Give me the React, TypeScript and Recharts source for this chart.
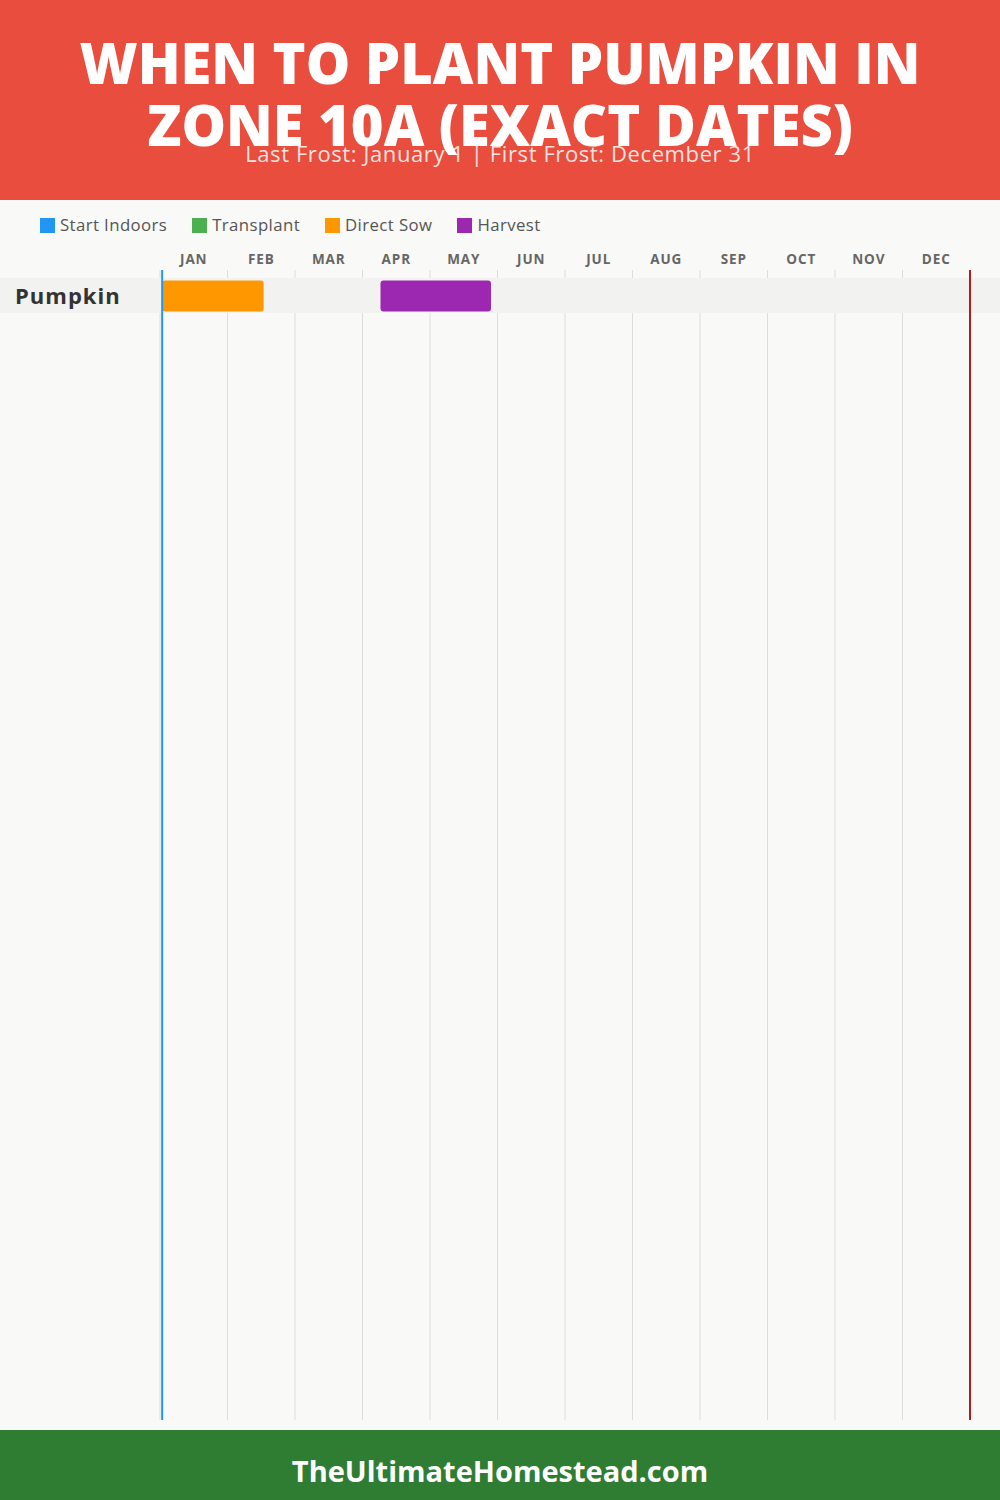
import React from 'react';
import { ComposedChart, Bar, XAxis, YAxis, CartesianGrid, ReferenceLine, ReferenceArea, Cell } from 'recharts';

const months = ['JAN', 'FEB', 'MAR', 'APR', 'MAY', 'JUN', 'JUL', 'AUG', 'SEP', 'OCT', 'NOV', 'DEC'];
const daysInMonth = [31, 28, 31, 30, 31, 30, 31, 31, 30, 31, 30, 31];
const crops = ['Pumpkin'];
const legendNames = ['Start Indoors', 'Transplant', 'Direct Sow', 'Harvest'];
const legendColors = ['#2196F3', '#4CAF50', '#FF9800', '#9C27B0'];
const pumpkinPhases = ['Direct Sow', 'Harvest'];
const pumpkinStarts = ['01-01', '04-08'];
const pumpkinEnds = ['02-15', '05-28'];
const lastFrost = '01-01';
const firstFrost = '12-31';

const toPos = (md: string) => {
  const [m, d] = md.split('-').map(Number);
  return m - 1 + d / daysInMonth[m - 1];
};

const W = 1000;
const LEFT = 160;
const RIGHT = 30;
const MONTH_PX = (W - LEFT - RIGHT) / months.length;
const ROW_PX = 35;
const PLOT_PX = 1150;
const TOP_GAP_PX = 8;
const yMin = -TOP_GAP_PX / ROW_PX;
const yMax = (PLOT_PX - TOP_GAP_PX) / ROW_PX;

const data = pumpkinPhases.map((p, i) => ({
  crop: crops[0],
  row: 0.5,
  phase: p,
  range: [toPos(pumpkinStarts[i]), toPos(pumpkinEnds[i])],
}));

const gridTicks = [...months.map((_, i) => i), 12];

const MonthTick = (props: any) => {
  const { x, y, payload } = props;
  const i = Math.round(payload.value);
  if (i >= months.length) return <g />;
  return (
    <text x={x + MONTH_PX / 2} y={y} dy={2} textAnchor="middle" fill="#666" fontFamily="'Open Sans', sans-serif" fontWeight={700} fontSize={13.5} letterSpacing={0.9}>
      {months[i]}
    </text>
  );
};

const CropTick = (props: any) => {
  const { y } = props;
  return (
    <text x={15} y={y} dy={8} textAnchor="start" fill="#333" fontFamily="'Open Sans', sans-serif" fontWeight={700} fontSize={22} letterSpacing={1}>
      {crops[0]}
    </text>
  );
};

const BandShape = (props: any) => <rect x={0} y={props.y} width={W} height={props.height} fill="#F2F2F0" />;

export default function App() {
  return (
    <div style={{ position: 'absolute', left: 0, top: 0, width: 1000, height: 1500, background: '#F9F9F7', overflow: 'hidden' }}>
      <div style={{ position: 'absolute', left: 0, top: 0, width: 1000, height: 200, background: '#E84D3D' }}>
        <div style={{ position: 'absolute', top: 31, left: 0, width: 1000, textAlign: 'center', color: '#fff', fontFamily: "'Open Sans', sans-serif", fontWeight: 800, fontSize: 56, lineHeight: '62px' }}>
          WHEN TO PLANT PUMPKIN IN<br />ZONE 10A (EXACT DATES)
        </div>
        <div style={{ position: 'absolute', top: 139, left: 0, width: 1000, textAlign: 'center', color: 'rgba(255,255,255,0.85)', fontFamily: "'Open Sans', sans-serif", fontSize: 22, lineHeight: '28px', letterSpacing: 0.6 }}>
          Last Frost: January 1 | First Frost: December 31
        </div>
      </div>
      <div style={{ position: 'absolute', top: 215, left: 40, display: 'flex', gap: 25, fontFamily: "'Open Sans', sans-serif", fontSize: 16.8, color: '#555', lineHeight: '20px', letterSpacing: 0.4 }}>
        {legendNames.map((n, i) => (
          <div key={n} style={{ display: 'flex', alignItems: 'center' }}>
            <span style={{ display: 'inline-block', width: 15, height: 15, background: legendColors[i], marginRight: 5 }} />
            {n}
          </div>
        ))}
      </div>
      <div style={{ position: 'absolute', top: 200, left: 0 }}>
        <ComposedChart width={W} height={1230} data={data} layout="vertical" margin={{ top: 40, right: RIGHT, bottom: 10, left: 0 }}>
          <XAxis type="number" orientation="top" domain={[0, 12]} ticks={gridTicks} height={30} axisLine={false} tickLine={false} tick={<MonthTick />} interval={0} allowDataOverflow />
          <YAxis type="number" dataKey="row" domain={[yMin, yMax]} ticks={[0.5]} width={LEFT} axisLine={false} tickLine={false} tick={<CropTick />} allowDataOverflow />
          <CartesianGrid horizontal={false} stroke="#DDDDDD" />
          <ReferenceArea y1={0} y2={1} ifOverflow="visible" shape={<BandShape />} />
          <Bar dataKey="range" barSize={31} radius={3} isAnimationActive={false}>
            {data.map((d) => (
              <Cell key={d.phase} fill={legendColors[legendNames.indexOf(d.phase)]} />
            ))}
          </Bar>
          <ReferenceLine x={toPos(lastFrost)} stroke="#2196F3" strokeWidth={2} />
          <ReferenceLine x={toPos(firstFrost)} stroke="#B71C1C" strokeWidth={2} />
        </ComposedChart>
      </div>
      <div style={{ position: 'absolute', left: 0, top: 1430, width: 1000, height: 70, background: '#2E7D32', color: '#fff', textAlign: 'center', fontFamily: "'Open Sans', sans-serif", fontWeight: 700, fontSize: 29, lineHeight: '82px' }}>
        TheUltimateHomestead.com
      </div>
    </div>
  );
}
